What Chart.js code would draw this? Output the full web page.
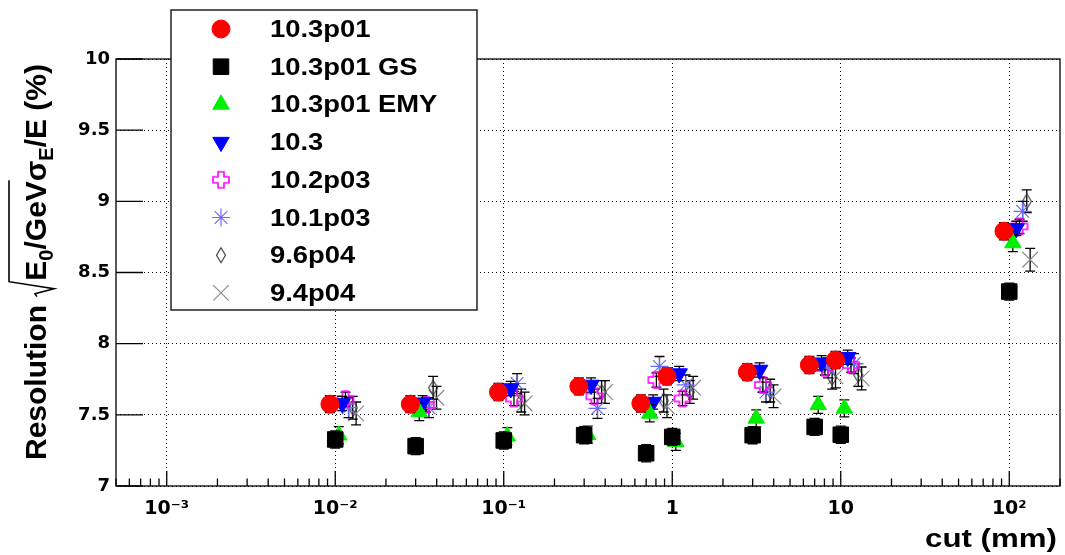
<!DOCTYPE html>
<html lang="en">
<head>
<meta charset="UTF-8">
<title>Resolution vs cut</title>
<script src="https://cdn.jsdelivr.net/npm/chart.js"></script>
<style>
    body { margin: 0; background: #fff; }
    #wrap { position: relative; width: 1065px; height: 555px; }
</style>
</head>
<body>
<div id="wrap"><canvas id="chart" width="1065" height="555"></canvas></div>
<script>
// production cuts (mm)
const cuts = [0.01, 0.03, 0.1, 0.3, 0.7, 1, 3, 7, 10, 100];

const names = ['10.3p01', '10.3p01 GS', '10.3p01 EMY', '10.3', '10.2p03', '10.1p03', '9.6p04', '9.4p04'];

// resolution values (%) per version, one per cut
const res_103p01    = [7.575, 7.575, 7.66, 7.70, 7.58, 7.77, 7.80, 7.85, 7.885, 8.79];
const res_103p01_GS = [7.327, 7.28, 7.32, 7.357, 7.23, 7.345, 7.357, 7.415, 7.36, 8.366];
const res_103p01_EMY= [7.357, 7.52, 7.35, 7.36, 7.51, 7.31, 7.475, 7.57, 7.545, 8.707];
const res_103       = [7.58, 7.585, 7.685, 7.71, 7.59, 7.79, 7.815, 7.866, 7.905, 8.81];
const res_102p03    = [7.61, 7.57, 7.615, 7.63, 7.745, 7.615, 7.71, 7.83, 7.85, 8.824];
const res_101p03    = [7.55, 7.55, 7.72, 7.545, 7.84, 7.71, 7.66, 7.83, 7.86, 8.93];
const res_96p04     = [7.55, 7.69, 7.60, 7.66, 7.60, 7.66, 7.67, 7.76, 7.78, 9.00];
const res_94p04     = [7.51, 7.62, 7.58, 7.66, 7.56, 7.69, 7.63, 7.77, 7.756, 8.59];

// each version is drawn slightly shifted along the cut axis
const xShift = [0.93, 1.0, 1.05, 1.1, 1.15, 1.2, 1.27, 1.33];
// error on the resolution per version
const yErr = [0.06, 0.06, 0.06, 0.05, 0.05, 0.07, 0.08, 0.08];

const xTicks = [1e-3, 1e-2, 1e-1, 1, 10, 100];
const xTickLabels = ['10\u207B\u00B3', '10\u207B\u00B2', '10\u207B\u00B9', '1', '10', '10\u00B2'];
const yTicks = [7, 7.5, 8, 8.5, 9, 9.5, 10];

const allRes = [res_103p01, res_103p01_GS, res_103p01_EMY, res_103, res_102p03, res_101p03, res_96p04, res_94p04];

function openCross(color) {
    const c = document.createElement('canvas');
    c.width = 20; c.height = 20;
    const g = c.getContext('2d');
    const o = 10, a = 3, b = 8;
    g.strokeStyle = color;
    g.lineWidth = 1.6;
    g.beginPath();
    g.moveTo(o - a, o - b); g.lineTo(o + a, o - b); g.lineTo(o + a, o - a);
    g.lineTo(o + b, o - a); g.lineTo(o + b, o + a); g.lineTo(o + a, o + a);
    g.lineTo(o + a, o + b); g.lineTo(o - a, o + b); g.lineTo(o - a, o + a);
    g.lineTo(o - b, o + a); g.lineTo(o - b, o - a); g.lineTo(o - a, o - a);
    g.closePath();
    g.stroke();
    return c;
}

function openDiamond(color) {
    const c = document.createElement('canvas');
    c.width = 12; c.height = 18;
    const g = c.getContext('2d');
    g.strokeStyle = color;
    g.lineWidth = 1.1;
    g.beginPath();
    g.moveTo(6, 1.5); g.lineTo(10.5, 9); g.lineTo(6, 16.5); g.lineTo(1.5, 9);
    g.closePath();
    g.stroke();
    return c;
}

const markers = [
    { style: 'circle', radius: 9, color: '#ff0000', bw: 1 },
    { style: 'rect', radius: 11, color: '#000000', bw: 1 },
    { style: 'triangle', radius: 9.5, color: '#00ee00', bw: 1 },
    { style: 'triangle', radius: 9.5, color: '#0000ff', bw: 1, rot: 180 },
    { style: openCross('#ff00ff'), radius: 10, color: '#ff00ff', bw: 1 },
    { style: 'star', radius: 9, color: '#6b6bff', bw: 1.2 },
    { style: openDiamond('#333333'), radius: 9, color: '#333333', bw: 1 },
    { style: 'crossRot', radius: 11, color: '#8a8a8a', bw: 1.2 }
];

const datasets = names.map((n, k) => ({
    label: n,
    data: cuts.map((c, i) => ({ x: c * xShift[k], y: allRes[k][i] })),
    showLine: false,
    pointStyle: markers[k].style,
    pointRadius: markers[k].radius,
    pointHoverRadius: markers[k].radius,
    pointRotation: markers[k].rot || 0,
    pointBackgroundColor: markers[k].color,
    pointBorderColor: markers[k].color,
    pointBorderWidth: markers[k].bw,
    errs: yErr[k]
}));

const errorBars = {
    id: 'errorBars',
    beforeDatasetDraw(chart, args) {
        const ctx = chart.ctx, ys = chart.scales.y, a = chart.chartArea;
        const ds = chart.data.datasets[args.index];
        ctx.save();
        ctx.beginPath();
        ctx.rect(a.left, a.top, a.right - a.left, a.bottom - a.top);
        ctx.clip();
        ctx.strokeStyle = '#000';
        ctx.lineWidth = 1.3;
        args.meta.data.forEach((pt, i) => {
            const v = ds.data[i].y;
            const y1 = ys.getPixelForValue(v + ds.errs);
            const y2 = ys.getPixelForValue(v - ds.errs);
            ctx.beginPath();
            ctx.moveTo(pt.x, y1); ctx.lineTo(pt.x, y2);
            ctx.moveTo(pt.x - 5, y1); ctx.lineTo(pt.x + 5, y1);
            ctx.moveTo(pt.x - 5, y2); ctx.lineTo(pt.x + 5, y2);
            ctx.stroke();
        });
        ctx.restore();
    }
};

const frame = {
    id: 'frame',
    beforeDatasetsDraw(chart) {
        const ctx = chart.ctx, a = chart.chartArea;
        const xs = chart.scales.x, ys = chart.scales.y;
        ctx.save();
        ctx.strokeStyle = '#000';
        ctx.lineWidth = 1.3;
        ctx.strokeRect(a.left, a.top, a.right - a.left, a.bottom - a.top);
        ctx.beginPath();
        yTicks.forEach(v => {
            const y = ys.getPixelForValue(v);
            ctx.moveTo(a.left, y); ctx.lineTo(a.left + 27, y);
        });
        for (let e = -4; e <= 2; e++) {
            for (let m = 1; m <= 9; m++) {
                const v = m * Math.pow(10, e);
                if (v < xs.min || v > xs.max) continue;
                const x = xs.getPixelForValue(v);
                ctx.moveTo(x, a.bottom);
                ctx.lineTo(x, a.bottom - (m === 1 ? 15 : 7.5));
            }
        }
        ctx.stroke();
        ctx.restore();
    }
};

const texts = {
    id: 'texts',
    afterDraw(chart) {
        const ctx = chart.ctx;
        const face = '"Liberation Sans", Arial, sans-serif';
        ctx.save();
        ctx.fillStyle = '#000';
        ctx.strokeStyle = '#000';

        // legend box
        ctx.fillStyle = '#fff';
        ctx.fillRect(171, 10, 306, 300);
        ctx.lineWidth = 1.3;
        ctx.strokeRect(171, 10, 306, 300);
        names.forEach((n, k) => {
            const y = 29 + k * 37.7;
            const mk = markers[k];
            ctx.save();
            ctx.fillStyle = mk.color;
            ctx.strokeStyle = mk.color;
            ctx.lineWidth = mk.bw;
            if (Chart.helpers && Chart.helpers.drawPoint) {
                Chart.helpers.drawPoint(ctx, { pointStyle: mk.style, radius: mk.radius, rotation: mk.rot || 0, borderWidth: mk.bw }, 221, y);
            }
            ctx.restore();
            ctx.save();
            ctx.fillStyle = '#000';
            ctx.translate(270, y + 8);
            ctx.scale(1.19, 1);
            ctx.font = 'bold 23px ' + face;
            ctx.textBaseline = 'alphabetic';
            ctx.fillText(n, 0, 0);
            ctx.restore();
        });

        // x title
        ctx.save();
        ctx.fillStyle = '#000';
        ctx.translate(1057, 547);
        ctx.scale(1.25, 1);
        ctx.font = 'bold 25px ' + face;
        ctx.textAlign = 'right';
        ctx.fillText('cut (mm)', 0, 0);
        ctx.restore();

        // y title
        ctx.save();
        ctx.fillStyle = '#000';
        ctx.translate(46, 460);
        ctx.rotate(-Math.PI / 2);
        const big = 'bold 30px ' + face, small = 'bold 20px ' + face;
        let x = 0;
        const put = (t, f, dy) => { ctx.font = f; ctx.fillText(t, x, dy || 0); x += ctx.measureText(t).width; };
        put('Resolution ', big);
        const rx = x;
        x += 16;
        put('E', big);
        put('0', small, 7);
        put('/GeV', big);
        ctx.lineWidth = 1.6;
        ctx.beginPath();
        ctx.moveTo(rx, -9); ctx.lineTo(rx + 3, -11); ctx.lineTo(rx + 8, 8);
        ctx.lineTo(rx + 15, -37); ctx.lineTo(x + 1, -37);
        ctx.stroke();
        put('\u03C3', big);
        put('E', small, 7);
        put('/E (%)', big);
        ctx.restore();

        ctx.restore();
    }
};

const tickFont = { family: '"DejaVu Sans", sans-serif', size: 18, weight: 'bold' };

new Chart(document.getElementById('chart'), {
    type: 'scatter',
    data: { datasets: datasets },
    options: {
        responsive: false,
        animation: false,
        layout: { autoPadding: false, padding: { top: 59, right: 5, left: 0, bottom: 0 } },
        plugins: { legend: { display: false }, tooltip: { enabled: false } },
        scales: {
            x: {
                type: 'logarithmic',
                min: 5e-4,
                max: 200,
                afterBuildTicks: s => { s.ticks = xTicks.map(v => ({ value: v, major: true })); },
                afterFit: s => { s.height = 69; },
                grid: { color: '#000', lineWidth: 1, drawTicks: false },
                border: { display: false, dash: [1, 3] },
                ticks: {
                    callback: (v, i) => xTickLabels[i],
                    font: { family: '"DejaVu Sans", sans-serif', size: 19, weight: 'bold' },
                    color: '#000', padding: 12,
                    maxRotation: 0, autoSkip: false
                }
            },
            y: {
                min: 7,
                max: 10,
                afterBuildTicks: s => { s.ticks = yTicks.map(v => ({ value: v })); },
                afterFit: s => { s.width = 116; },
                grid: { color: '#000', lineWidth: 1, drawTicks: false },
                border: { display: false, dash: [1, 3] },
                ticks: {
                    callback: v => String(v),
                    font: tickFont, color: '#000', padding: 6
                }
            }
        }
    },
    plugins: [frame, errorBars, texts]
});
</script>
</body>
</html>
